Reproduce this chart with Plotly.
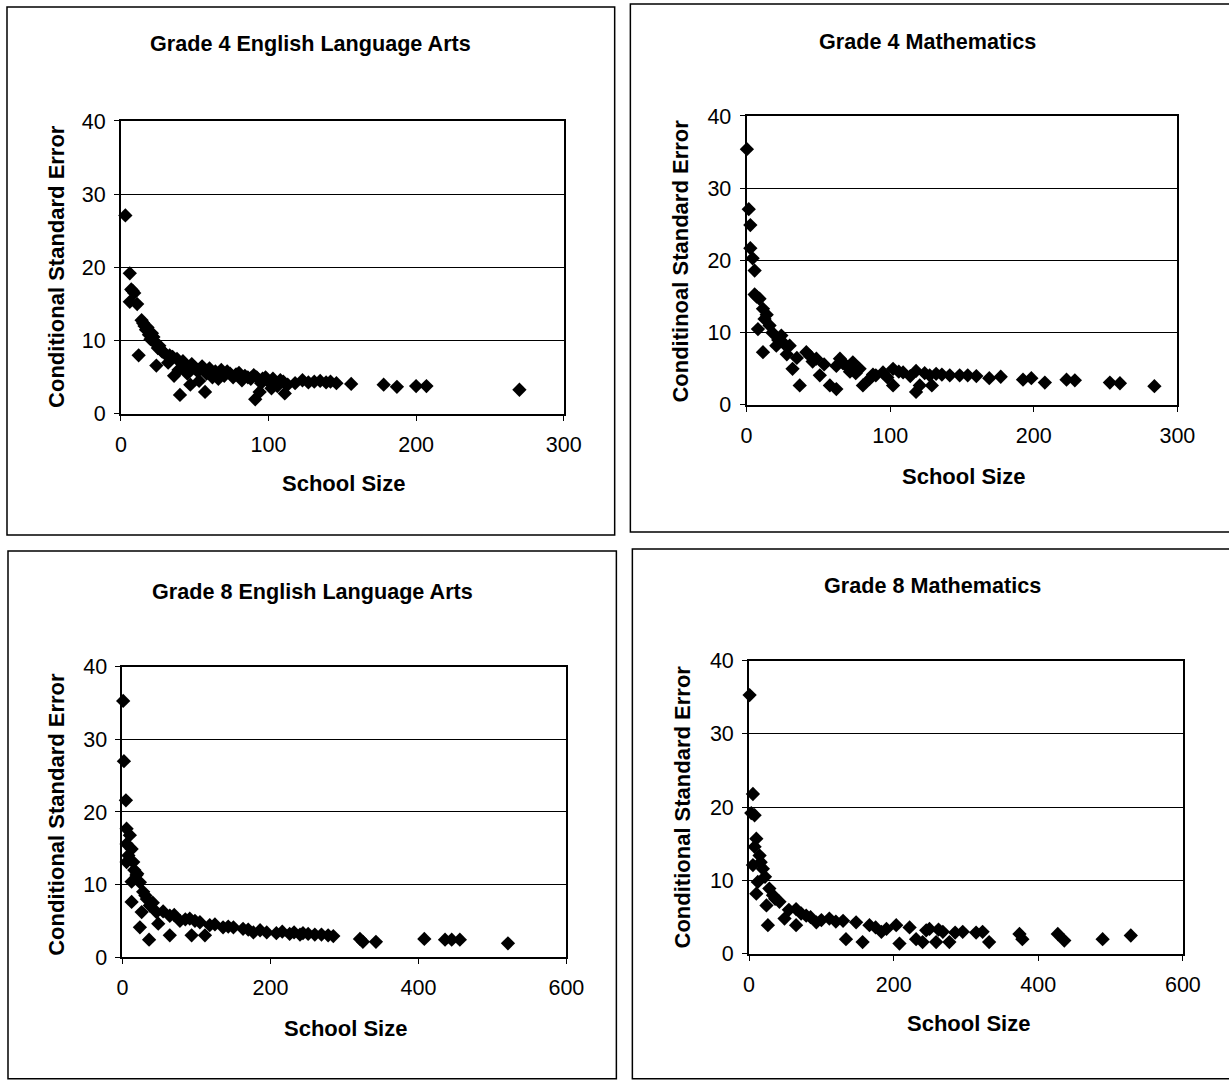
import plotly.graph_objects as go

# ---------------- data ----------------
g4e_size = [3, 6, 7, 8, 9, 6, 11, 12, 14, 15, 16, 17, 18, 19, 20, 21, 22, 23, 24, 25, 26, 27, 24, 28, 30,
            32, 33, 35, 36, 38, 39, 40, 42, 44, 45, 47, 48, 50, 52, 53, 55, 57, 58, 60, 62, 64, 66, 68, 70,
            72, 74, 76, 78, 80, 82, 84, 86, 88, 90, 91, 92, 94, 95, 96, 98, 100, 102, 103, 105, 106, 108,
            110, 111, 113, 118, 123, 127, 131, 135, 139, 142, 146, 156, 178, 187, 200, 207, 270]
g4e_cse = [27.1, 19.2, 17.0, 16.8, 16.5, 15.3, 15.0, 8.0, 12.8, 12.4, 12.0, 11.5, 11.8, 10.8, 10.2, 11.0,
           10.5, 9.8, 9.5, 9.0, 9.3, 8.8, 6.6, 8.5, 8.2, 7.0, 8.0, 7.8, 5.2, 7.5, 6.0, 2.6, 7.2, 6.5, 5.5,
           4.0, 6.8, 6.3, 5.8, 4.5, 6.5, 3.0, 5.5, 6.2, 5.0, 5.8, 4.8, 6.0, 5.2, 5.8, 5.5, 5.0, 5.4, 5.6,
           4.6, 5.2, 5.0, 4.8, 5.3, 2.0, 5.0, 3.0, 4.2, 4.8, 5.0, 4.4, 3.5, 4.8, 4.2, 3.8, 4.6, 4.4, 2.8,
           4.0, 4.2, 4.6, 4.3, 4.4, 4.5, 4.3, 4.4, 4.2, 4.1, 4.0, 3.7, 3.8, 3.8, 3.3]

g4m_size = [0.2, 1.5, 2.6, 2.6, 4.2, 5.6, 5.6, 7, 9, 11.4, 12.5, 7.9, 16, 11.4, 14, 18, 24.2, 20.7, 22, 26,
            30, 28, 32, 37, 35, 41.6, 44, 48.6, 46, 51, 54, 58, 62.5, 62.5, 65, 67, 69.5, 72, 74, 76, 78.7,
            81, 85.7, 88, 90, 95, 98, 102, 102, 106, 109, 114, 118, 120.6, 118, 124, 127.5, 129, 132, 136,
            141.5, 148.4, 154, 160, 169, 177, 192.5, 198.3, 207.7, 222.8, 228.6, 253, 260, 284]
g4m_cse = [35.4, 27.1, 24.9, 21.7, 20.3, 18.6, 15.3, 15.0, 14.7, 13.3, 11.9, 10.5, 11.0, 7.3, 12.5, 10.0,
           9.6, 8.2, 9.0, 8.5, 8.2, 7.0, 5.0, 2.7, 6.5, 7.3, 6.8, 6.4, 6.0, 4.1, 5.6, 2.7, 2.2, 5.4, 6.4,
           5.8, 5.4, 4.6, 5.9, 4.4, 5.0, 2.7, 3.6, 4.2, 4.1, 4.5, 3.8, 5.0, 2.7, 4.6, 4.5, 4.0, 4.7, 2.7,
           1.8, 4.4, 4.1, 2.7, 4.3, 4.2, 4.1, 4.1, 4.1, 4.0, 3.7, 3.9, 3.5, 3.7, 3.1, 3.5, 3.4, 3.1, 3.0, 2.6]

g8e_size = [1, 2, 4.7, 5.6, 10, 5.6, 12.4, 14.6, 5.6, 19, 12.4, 23.6, 28, 12.4, 26, 37, 46, 23.6, 36, 48.4,
            64, 64, 77.7, 91, 93.5, 104.7, 111.5, 118, 136, 150, 163, 177, 195, 208, 226, 240, 251, 269,
            285, 321, 325, 342.6, 408, 436, 445, 456, 521,
            8, 16, 20, 31, 33, 41, 55, 70, 85, 98, 125, 143, 170, 186, 216, 232, 260, 278, 244]
g8e_cse = [35.3, 27.0, 21.6, 17.7, 16.8, 15.6, 14.9, 13.1, 13.1, 11.3, 10.4, 10.3, 9.0, 7.6, 6.2, 7.1, 6.2,
           4.1, 2.4, 4.6, 3.0, 5.7, 5.0, 5.3, 3.0, 4.8, 3.0, 4.4, 4.1, 4.1, 3.9, 3.4, 3.4, 3.3, 3.2, 3.1,
           3.2, 3.1, 2.9, 2.5, 2.1, 2.1, 2.5, 2.4, 2.4, 2.4, 1.9,
           14.0, 12.0, 11.5, 8.5, 8.0, 7.5, 6.3, 5.8, 5.2, 5.0, 4.5, 4.2, 3.8, 3.7, 3.5, 3.4, 3.1, 3.0, 3.3]

g8m_size = [0.7, 5.3, 7.6, 10, 7.6, 14.5, 5.3, 19, 12, 28, 10, 24, 42, 26, 49, 65, 65, 79, 93, 111, 130,
            134, 148, 157, 166.5, 183, 203.5, 208, 222, 231, 240, 249.5, 258.7, 268, 277, 295.5, 314, 323,
            332, 374, 378, 427, 436, 489, 528,
            3, 16, 22, 33, 36, 55, 72, 85, 100, 120, 175, 190, 245, 262, 285]
g8m_cse = [35.3, 21.8, 18.9, 15.7, 14.6, 13.4, 12.1, 11.6, 9.8, 8.9, 8.2, 6.6, 7.1, 3.9, 4.8, 6.1, 3.9, 5.2,
           4.3, 4.8, 4.5, 2.0, 4.3, 1.6, 3.9, 3.0, 3.9, 1.4, 3.6, 2.0, 1.6, 3.4, 1.6, 3.0, 1.6, 3.0, 2.9,
           3.0, 1.6, 2.7, 2.0, 2.7, 1.8, 2.0, 2.5,
           19.2, 12.5, 10.5, 8.0, 7.5, 6.0, 5.5, 5.0, 4.6, 4.4, 3.6, 3.4, 3.2, 3.3, 2.9]

titles = ["Grade 4 English Language Arts", "Grade 4 Mathematics",
          "Grade 8 English Language Arts", "Grade 8 Mathematics"]
x_title = "School Size"
y_titles = ["Conditional Standard Error", "Conditinoal Standard Error",
            "Conditional Standard Error", "Conditional Standard Error"]
x_max = [300, 300, 600, 600]
x_dtick = [100, 100, 200, 200]
y_max = 40
y_dtick = 10

series = [(g4e_size, g4e_cse), (g4m_size, g4m_cse), (g8e_size, g8e_cse), (g8m_size, g8m_cse)]
for s, c in series:
    assert len(s) == len(c)

# ---------------- layout geometry (target pixels in the picture) ----------------
W, H = 1229, 1081
# the rendered page lands slightly offset/scaled in the photograph; compensate
OX, OY, SX, SY = 6.0, 12.0, 0.981, 0.978

plots = [(121, 564, 122, 415), (747, 1178, 117, 406), (122.5, 566.7, 668, 958.3), (749.5, 1183.5, 661.7, 955)]
frames = [(7, 8, 615, 536), (630.7, 5, 1260, 533), (8, 552, 616.7, 1080), (632.7, 550, 1260, 1080)]
title_pos = [(311, 45), (928, 43), (313, 593), (933, 587)]
xt_pos = [(344, 485), (964, 478), (346, 1030), (969, 1025)]
yt_pos = [(57, 267), (681, 262), (57, 815), (683, 808)]


def px(x):
    return ((x - OX) / SX) / W


def py(y):
    return 1 - ((y - OY) / SY) / H


FONT = "Liberation Sans, Arial, sans-serif"
FS_TICK = 21.5
FS_HEAD = 21.6
FS_AXIS = 22
fig = go.Figure()
shapes = []
annotations = []

for i in range(4):
    xa = "x" if i == 0 else f"x{i+1}"
    ya = "y" if i == 0 else f"y{i+1}"
    s, c = series[i]
    fig.add_trace(go.Scatter(
        x=s, y=c, mode="markers", xaxis=xa, yaxis=ya, cliponaxis=False,
        marker=dict(symbol="diamond", size=11, color="black", line=dict(width=0)),
        showlegend=False, hoverinfo="x+y"))
    x0, x1, y0, y1 = plots[i]
    axis_common = dict(showline=True, mirror=True, linecolor="black", linewidth=2,
                       ticks="outside", ticklen=5, tickcolor="black", tickwidth=1,
                       tickfont=dict(family=FONT, size=FS_TICK, color="black"),
                       zeroline=False, fixedrange=True)
    fig.layout["xaxis" if i == 0 else f"xaxis{i+1}"] = dict(
        domain=[px(x0), px(x1)], anchor=ya, range=[0, x_max[i]], dtick=x_dtick[i],
        tick0=0, showgrid=False, ticklabelstandoff=5, **axis_common)
    fig.layout["yaxis" if i == 0 else f"yaxis{i+1}"] = dict(
        domain=[py(y1), py(y0)], anchor=xa, range=[0, y_max], dtick=y_dtick, tick0=0,
        showgrid=True, gridcolor="black", gridwidth=1, ticklabelstandoff=4, **axis_common)

    fx0, fy0, fx1, fy1 = frames[i]
    shapes.append(dict(type="rect", xref="paper", yref="paper",
                       x0=px(fx0), x1=px(fx1), y0=py(fy1), y1=py(fy0),
                       line=dict(color="black", width=1.5)))

    tx, ty = title_pos[i]
    annotations.append(dict(text=f"<b>{titles[i]}</b>", xref="paper", yref="paper",
                            x=px(tx), y=py(ty), xanchor="center", yanchor="middle",
                            showarrow=False, font=dict(family=FONT, size=FS_HEAD, color="black")))
    ax_, ay_ = xt_pos[i]
    annotations.append(dict(text=f"<b>{x_title}</b>", xref="paper", yref="paper",
                            x=px(ax_), y=py(ay_), xanchor="center", yanchor="middle",
                            showarrow=False, font=dict(family=FONT, size=FS_AXIS, color="black")))
    bx, by = yt_pos[i]
    annotations.append(dict(text=f"<b>{y_titles[i]}</b>", xref="paper", yref="paper",
                            x=px(bx), y=py(by), xanchor="center", yanchor="middle",
                            textangle=-90, showarrow=False,
                            font=dict(family=FONT, size=FS_AXIS, color="black")))

fig.update_layout(width=W, height=H, margin=dict(l=0, r=0, t=0, b=0),
                  paper_bgcolor="white", plot_bgcolor="white",
                  shapes=shapes, annotations=annotations, showlegend=False)

fig.write_html("out.html", config={"displayModeBar": False},
               post_script="document.body.style.margin='0';document.body.style.overflow='hidden';")
